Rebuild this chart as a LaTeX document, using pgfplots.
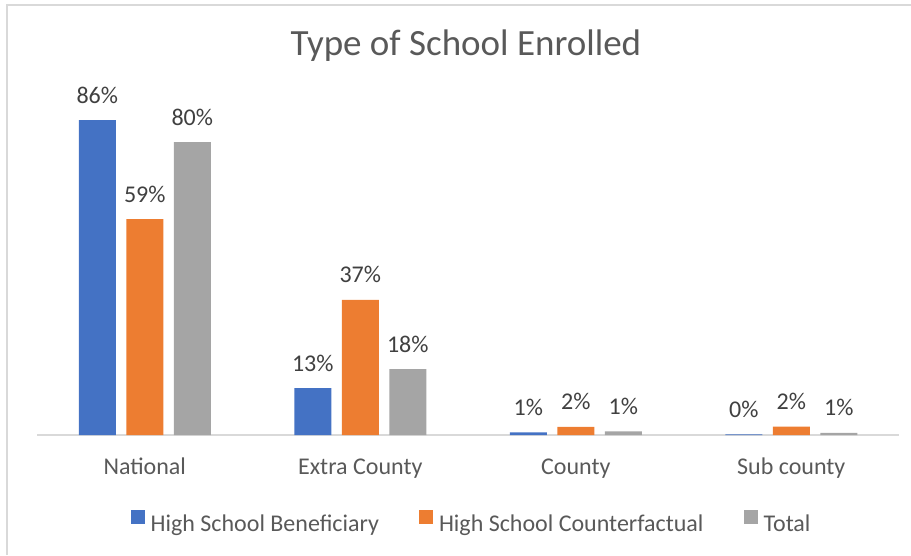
\documentclass[border=0pt]{standalone}
\usepackage{fontspec}
\setmainfont{Carlito}
\usepackage{pgfplots}
\pgfplotsset{compat=1.18}
\definecolor{cblue}{HTML}{4472C4}
\definecolor{corange}{HTML}{ED7D31}
\definecolor{cgray}{HTML}{A5A5A5}
\definecolor{txt}{HTML}{595959}
\definecolor{lbl}{HTML}{404040}
\definecolor{linegray}{HTML}{D9D9D9}
\begin{document}
\begin{tikzpicture}[x=1pt,y=1pt]
\useasboundingbox (0,0) rectangle (911,555);
\draw[color=linegray, line width=1.3pt] (7,0) -- (7,550) -- (911,550);
\node[anchor=base, font=\fontsize{37}{44}\selectfont, text=txt, inner sep=0pt] at (466,499) {Type of School Enrolled};
\begin{axis}[
  at={(37pt,120pt)}, anchor=south west,
  scale only axis, width=862pt, height=366pt,
  xmin=-0.5, xmax=3.5, ymin=0, ymax=100,
  ybar=10.5pt, bar width=37pt,
  axis x line*=bottom, axis y line=none,
  x axis line style={-, draw=linegray, line width=1.3pt},
  xtick={0,1,2,3},
  xticklabels={National,Extra County,County,Sub county},
  major tick length=0pt,
  xticklabel style={anchor=base, yshift=-39pt, font=\fontsize{24}{28}\selectfont, text=txt, inner sep=0pt},
  /pgf/number format/assume math mode=true,
  point meta=explicit,
  nodes near coords={\pgfmathprintnumber{\pgfplotspointmeta}\%},
  every node near coord/.append style={anchor=base, yshift=17pt, font=\fontsize{24}{28}\selectfont, text=lbl, inner sep=0pt},
  legend columns=3,
  legend style={at={(0.503,-0.236)}, anchor=center, draw=none, fill=none,
    font=\fontsize{24}{28}\selectfont, text=txt,
    nodes={inner sep=0pt},
    /tikz/every odd column/.append style={column sep=6pt},
    /tikz/every even column/.append style={column sep=40pt}},
  legend image code/.code={\fill[#1,draw=none] (0pt,0.5pt) rectangle (14pt,14.5pt);},
]
\addplot[fill=cblue, draw=none] table[x=x, y=y, meta=m] {
x y m
0 86.0 86
1 12.8 13
2 0.7 1
3 0.2 0
};
\addplot[fill=corange, draw=none] table[x=x, y=y, meta=m] {
x y m
0 59.0 59
1 36.9 37
2 2.2 2
3 2.3 2
};
\addplot[fill=cgray, draw=none] table[x=x, y=y, meta=m] {
x y m
0 80.0 80
1 18.0 18
2 1.0 1
3 0.6 1
};
\legend{High School Beneficiary, High School Counterfactual, Total}
\end{axis}
\end{tikzpicture}
\end{document}
